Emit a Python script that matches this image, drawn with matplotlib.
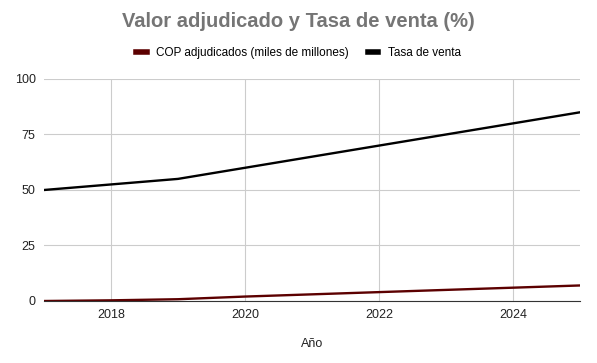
import matplotlib
matplotlib.use('Agg')
from matplotlib import pyplot as plt
from matplotlib.lines import Line2D

# Data
years = [2017, 2018, 2019, 2020, 2021, 2022, 2023, 2024, 2025]
cop_adjudicados = [0, 0.3, 0.8, 2, 3, 4, 5, 6, 7]
tasa_venta = [50, 52.5, 55, 60, 65, 70, 75, 80, 85]
x_ticks = [2018, 2020, 2022, 2024]
y_ticks = [0, 25, 50, 75, 100]

plt.rcParams['font.family'] = ['Liberation Sans', 'DejaVu Sans']
dpi = 100
fig = plt.figure(figsize=(597 / dpi, 363 / dpi), dpi=dpi)
ax = fig.add_axes([0.0737, 0.1708, 0.8978, 0.6116])

ax.plot(years, cop_adjudicados, color='#5c0000', lw=1.7, solid_capstyle='round')
ax.plot(years, tasa_venta, color='#000000', lw=1.7, solid_capstyle='round')

ax.set_xlim(2017, 2025)
ax.set_ylim(0, 100)
ax.set_xticks(x_ticks)
ax.set_yticks(y_ticks)
ax.grid(color='#cccccc', lw=0.8)
ax.set_axisbelow(True)
for s in ['top', 'right', 'left']:
    ax.spines[s].set_visible(False)
ax.spines['bottom'].set_color('#333333')
ax.tick_params(length=0, labelsize=9, colors='#222222', pad=6)
ax.set_xlabel('Año', fontsize=9, color='#222222', labelpad=12)

fig.text(0.5, 0.94, 'Valor adjudicado y Tasa de venta (%)', ha='center', va='center',
         fontsize=14.5, fontweight='bold', color='#757575')

handles = [Line2D([], [], color='#5c0000', lw=4),
           Line2D([], [], color='#000000', lw=4)]
fig.legend(handles, ['COP adjudicados (miles de millones)', 'Tasa de venta'],
           loc='center', bbox_to_anchor=(0.5, 0.855), ncol=2, frameon=False,
           fontsize=8.5, handlelength=0.9, handletextpad=0.8, columnspacing=1.6)

fig.savefig('out.png', dpi=dpi)
